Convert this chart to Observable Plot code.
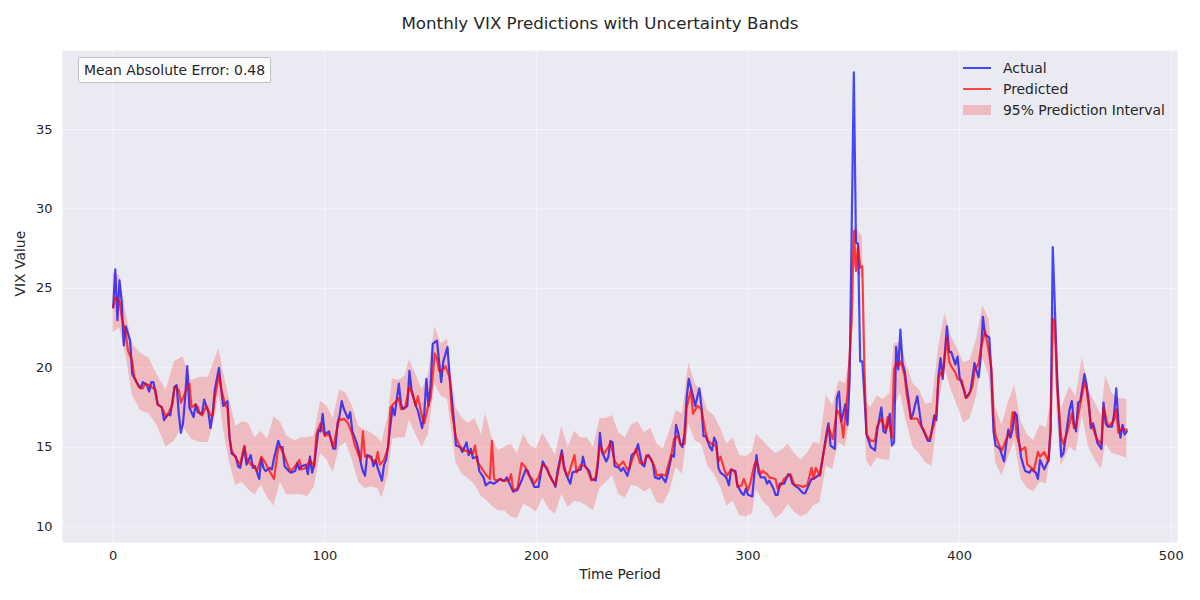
<!DOCTYPE html>
<html>
<head>
<meta charset="utf-8">
<script src="https://cdn.jsdelivr.net/npm/d3@7"></script>
<script src="https://cdn.jsdelivr.net/npm/@observablehq/plot@0.6"></script>
<style>
  body { margin: 0; background: white; }
  #wrap { position: relative; width: 1200px; height: 600px; font-family: "DejaVu Sans", sans-serif; color: #262626; }
  #title { height: 40px; line-height: 47px; text-align: center; font-size: 16.7px; }
  .leg { position: absolute; font-size: 13.9px; display: flex; align-items: center; height: 20px; }
  #mae { position: absolute; left: 78px; top: 57px; width: 193px; height: 26px; box-sizing: border-box; border: 1px solid #c0c0c0; background: rgba(255,255,255,0.85); font-size: 13.9px; line-height: 24px; padding-left: 5px; border-radius: 2px; }
</style>
</head>
<body>
<div id="wrap">
  <div id="title">Monthly VIX Predictions with Uncertainty Bands</div>
  <div id="chart"></div>
  <div id="mae">Mean Absolute Error: 0.48</div>
  <div id="legend"></div>
</div>
<script>
// ---- data ----
const actualT = [0,1,2,3,4,5,6,8,9,11,13,14,16,17,18,19,21,23,24,26,27,29,30,31,32,33,34,35,36,38,39,40,42,43,45,46,47,48,50,51,52,54,55,56,58,59,60,62,63,65,66,67,69,70,71,72,74,75,76,78,79,80,81,83,84,86,87,88,89,91,92,93,94,95,97,98,99,100,101,102,103,104,105,106,107,108,109,110,111,112,113,115,116,117,118,119,120,122,123,124,125,127,128,129,130,132,133,135,136,137,139,140,141,143,144,146,147,148,149,150,151,153,154,155,156,158,159,160,161,162,164,165,167,168,169,170,172,173,175,176,178,180,181,183,184,185,186,188,189,191,192,193,195,196,197,199,201,202,203,205,206,208,209,210,212,213,214,216,217,219,221,222,223,225,226,228,229,230,231,233,234,235,236,237,239,240,241,243,244,245,247,248,250,251,252,253,255,256,258,259,261,262,264,265,266,267,268,269,270,271,272,274,275,277,278,279,280,282,283,284,285,286,287,289,290,291,292,294,295,297,298,299,300,302,303,304,305,306,308,309,310,312,313,314,315,317,318,319,320,321,323,324,326,327,328,330,331,334,335,337,338,339,341,342,343,344,346,347,348,350,351,352,353,354,355,356,358,360,361,363,364,365,367,368,369,370,371,372,373,374,375,376,377,378,379,380,382,383,385,386,388,389,390,391,392,394,395,396,398,399,400,402,403,405,406,407,408,409,410,411,412,414,415,416,417,418,419,420,421,422,423,424,425,426,427,428,429,430,431,433,434,436,437,438,439,440,441,442,443,444,445,446,447,448,449,451,452,453,454,455,456,457,459,460,461,462,463,464,465,466,467,468,469,470,472,473,474,475,476,477,478,479];
const actualV = [23.8,26.2,23.0,25.5,24.2,21.4,22.6,21.7,19.6,19.1,18.7,19.1,18.9,18.5,19.1,19.1,17.7,17.5,16.7,17.1,17.0,18.8,18.9,17.1,15.9,16.5,18.1,20.1,17.5,16.9,17.7,17.2,17.1,18.0,17.2,16.2,17.1,18.6,20.0,18.7,17.6,17.9,15.6,14.6,14.4,13.8,13.7,15.0,13.9,14.5,13.7,13.8,13.0,14.3,13.7,13.5,13.7,13.6,14.3,15.4,15.0,15.0,13.8,13.5,13.4,13.5,14.0,13.6,13.8,13.9,13.3,14.4,13.4,13.9,16.1,16.0,17.1,15.8,15.9,16.0,15.4,14.9,14.9,16.5,17.0,17.9,17.4,17.1,16.8,17.2,16.0,15.3,14.8,14.0,13.5,13.2,14.5,14.4,13.8,14.2,13.7,12.9,13.9,14.2,15.2,17.5,17.0,19.0,17.7,17.4,17.6,19.8,18.6,17.6,17.3,16.2,17.1,19.3,17.6,18.9,21.5,21.7,20.4,19.1,20.4,21.3,19.4,18.1,16.7,15.1,15.0,14.7,15.3,14.5,14.9,14.3,14.4,13.5,13.1,12.6,12.8,12.7,12.8,13.0,12.9,12.9,13.1,12.5,12.2,12.3,12.6,12.9,13.6,13.5,13.1,12.5,12.5,13.3,14.1,13.6,13.3,12.8,12.5,13.5,14.8,13.9,13.3,12.7,13.4,13.5,13.6,14.4,13.8,13.5,13.0,12.9,13.8,15.9,14.7,14.1,14.4,15.4,15.3,13.8,13.7,13.5,13.7,13.2,13.7,14.5,14.7,15.2,13.9,13.8,14.4,14.5,14.0,13.1,13.0,13.2,12.8,13.3,14.5,14.4,16.4,15.9,15.2,15.0,15.9,18.1,19.3,18.2,17.6,18.7,17.5,15.7,15.7,15.0,14.8,15.6,15.3,13.7,13.4,13.2,13.0,12.6,13.6,13.5,12.6,12.1,12.0,12.4,12.0,11.9,13.3,14.5,13.4,13.1,13.1,12.7,12.9,12.4,12.0,12.0,12.7,12.7,13.0,13.3,13.2,12.7,12.5,12.4,12.1,12.1,12.4,13.0,13.0,13.3,14.1,15.8,16.5,15.1,14.9,18.1,18.5,16.6,17.7,16.4,19.2,38.6,27.9,27.8,20.4,20.4,18.2,15.8,15.0,14.8,16.0,17.5,16.0,15.9,17.1,15.1,15.3,21.3,19.9,22.4,20.3,19.8,18.8,17.9,16.8,17.1,17.7,18.2,16.3,16.0,15.4,15.4,17.0,16.7,19.5,20.6,19.3,22.6,21.0,21.0,20.2,20.7,19.4,18.6,18.1,18.5,19.3,20.3,19.8,19.4,20.8,23.2,22.1,21.9,19.6,16.0,15.1,15.0,14.9,14.5,14.1,15.2,16.1,15.6,16.1,17.2,17.0,15.4,14.4,13.9,13.5,13.4,13.6,13.4,13.0,14.2,13.9,13.6,13.9,14.2,16.2,27.6,23.8,19.8,16.9,14.4,14.6,16.5,17.4,17.9,16.5,16.0,17.8,17.9,19.6,18.9,17.9,16.2,16.5,16.0,15.3,15.1,14.9,17.8,16.5,16.3,16.3,17.1,18.7,16.6,15.6,16.4,15.8,16.0];

const predT = [0,1,2,3,4,6,7,9,10,12,14,15,17,18,20,21,23,25,26,28,29,31,32,34,36,37,39,40,41,42,44,46,47,48,50,51,53,54,55,56,58,60,62,63,65,66,68,70,72,73,76,78,79,81,83,84,86,88,89,91,93,95,96,98,100,102,103,104,106,107,108,109,111,113,114,116,117,118,119,121,124,125,126,128,130,131,133,135,136,138,140,141,143,144,146,147,149,150,152,153,154,156,157,159,160,162,164,166,168,170,171,172,174,176,178,179,180,181,183,184,187,188,189,191,193,195,196,198,199,201,203,205,207,209,210,212,213,215,218,219,221,223,224,226,228,230,232,234,235,237,239,241,243,244,246,247,249,251,252,254,256,257,259,261,262,264,265,267,268,270,271,273,274,276,277,278,279,280,281,283,284,285,286,287,289,290,292,294,295,297,298,300,301,303,304,306,307,309,310,313,314,316,317,319,320,322,324,326,328,330,331,332,334,335,338,340,342,343,344,345,346,347,349,350,351,352,353,354,355,356,358,360,361,363,365,366,368,369,370,371,372,373,374,375,377,378,380,381,383,385,386,388,389,390,391,392,394,395,396,398,399,401,403,404,406,407,409,410,412,413,415,416,417,419,420,422,424,425,426,427,429,431,432,434,435,437,438,440,442,443,444,445,446,448,449,451,453,454,455,457,459,460,462,463,464,465,467,468,470,471,473,474,475,477,478,479];
const predV = [23.8,24.4,24.3,24.2,23.2,22.1,21.1,20.4,19.4,18.8,18.7,19.0,18.9,18.8,18.6,17.7,17.5,16.9,17.1,17.7,18.8,18.6,17.8,18.4,19.0,17.5,17.7,17.5,17.1,17.0,17.6,17.0,17.0,18.1,19.6,18.7,17.6,17.5,15.6,14.8,14.3,13.9,15.1,14.3,13.9,13.9,13.5,14.4,14.0,13.7,13.0,15.0,15.0,14.4,13.7,13.5,13.8,14.2,13.6,13.7,14.2,13.8,15.8,16.5,15.7,15.8,15.5,15.0,16.3,16.8,16.7,16.8,16.5,15.8,15.2,14.5,14.2,16.0,14.4,14.4,14.0,14.7,13.9,14.2,15.0,17.5,17.8,18.1,17.4,17.5,18.8,18.5,17.6,18.2,16.9,16.5,17.7,18.1,20.9,20.6,19.8,19.9,20.1,19.4,17.3,15.6,15.0,14.8,14.7,14.6,15.1,14.1,13.7,13.3,13.0,15.4,13.0,12.9,13.0,12.9,12.9,13.3,12.3,12.4,14.0,13.7,13.3,13.0,12.7,13.1,13.9,13.7,13.0,12.6,13.3,14.6,13.6,13.2,14.5,13.4,13.9,13.8,13.6,12.9,13.1,15.1,14.6,15.0,15.3,14.1,13.8,14.1,13.6,13.7,14.5,14.9,14.0,14.0,14.5,14.3,13.7,13.2,13.3,13.2,13.7,14.7,15.5,15.7,15.2,15.2,17.5,18.6,17.1,17.6,17.5,17.4,16.6,15.9,15.4,15.2,15.2,15.0,14.1,14.4,13.5,13.2,13.6,13.4,12.5,12.6,13.0,12.3,12.7,13.9,14.1,13.3,13.5,13.3,13.1,13.0,12.4,12.7,13.0,13.2,13.3,12.6,12.6,12.5,12.6,13.7,13.0,13.7,13.2,14.1,16.3,15.5,17.3,17.2,16.7,15.6,17.1,18.4,23.0,28.6,26.1,27.6,26.3,26.4,20.0,15.8,15.4,15.4,16.3,16.8,16.1,16.9,15.6,19.9,20.3,20.1,20.4,20.0,19.5,18.3,16.8,16.8,16.8,16.5,16.1,15.5,15.6,16.5,17.3,19.3,19.7,19.5,21.9,20.4,20.1,19.7,19.3,19.2,18.1,18.2,18.8,19.8,20.3,21.2,22.3,21.6,20.0,16.9,15.7,15.0,14.8,15.5,16.0,17.2,17.1,15.7,14.8,15.0,13.9,13.7,13.5,14.7,14.4,14.7,14.1,16.0,23.1,22.8,18.8,15.6,15.2,16.0,17.1,16.2,16.3,17.7,19.1,18.6,16.5,16.2,15.8,15.5,15.2,17.5,16.4,16.4,16.7,17.4,15.9,16.2,16.1,16.1];

const bandT  = [0,3,6,9,13,17,21,25,29,33,37,41,45,48,50,52,55,58,61,64,67,70,73,76,79,82,86,89,92,95,98,101,104,107,110,113,116,119,122,125,127,130,132,135,138,140,143,146,149,152,155,158,160,162,165,168,171,174,176,179,182,185,188,191,194,197,200,203,206,209,212,215,218,221,224,227,230,233,236,239,242,245,248,251,254,257,260,263,266,269,272,275,278,281,284,287,290,293,296,299,302,304,307,310,313,316,319,322,325,328,331,334,337,340,343,346,348,349,350,352,354,355,356,358,361,364,367,369,372,375,378,381,384,387,390,393,396,399,402,405,408,411,414,417,420,423,426,429,432,435,438,441,443,444,445,446,448,452,455,458,461,464,467,469,472,475,479];
const bandLow = [22.2,22.5,20.8,18.3,17.3,17.1,16.3,15.0,15.4,16.3,15.5,15.3,15.3,16.8,18.3,16.2,14.0,12.6,12.8,12.3,12.0,12.6,11.8,11.3,12.8,12.0,12.0,12.0,11.9,12.5,14.6,14.2,13.4,15.0,15.3,14.2,12.8,12.4,12.5,12.4,11.8,13.2,15.5,15.6,15.6,16.7,15.8,15.0,15.8,19.0,18.2,18.0,16.0,14.0,13.3,13.0,12.6,11.9,11.7,11.3,11.0,11.0,10.6,10.5,11.4,11.2,10.9,11.8,11.1,10.8,12.0,11.2,11.6,11.5,11.3,11.0,12.4,12.8,13.2,12.0,11.8,12.6,12.5,12.2,12.4,11.5,11.4,12.2,13.7,13.3,16.5,15.4,15.2,13.8,13.3,12.5,11.3,11.6,10.7,10.6,10.8,12.3,11.6,11.2,10.5,10.8,11.4,10.9,10.6,10.8,11.3,11.5,13.8,13.6,15.3,15.0,16.5,21.0,26.5,25.9,25.6,18.4,14.2,13.7,14.3,14.2,14.2,17.5,18.4,16.5,15.0,14.6,14.0,13.8,17.3,20.0,18.6,17.6,16.5,16.8,18.2,20.6,19.4,14.0,13.2,14.3,15.4,13.0,12.4,12.2,12.8,12.7,14.4,21.8,21.4,17.2,13.8,15.0,14.7,17.0,15.0,14.2,13.6,15.2,14.6,14.5,14.3];
const bandHigh = [26.0,25.8,23.5,21.5,20.9,20.6,19.5,18.6,20.4,20.7,19.2,19.4,19.4,20.5,21.2,19.8,18.0,16.3,16.6,16.5,15.6,16.0,15.5,16.9,16.6,15.7,15.4,15.6,15.6,15.7,17.9,17.6,16.8,18.6,18.4,17.6,16.3,16.1,15.9,15.6,15.3,17.0,19.3,19.2,19.5,20.5,19.6,18.6,19.6,22.6,21.5,21.8,19.4,17.5,16.8,16.5,16.8,15.8,17.1,15.6,14.8,15.0,15.2,14.6,15.8,15.1,14.9,15.9,15.2,14.5,16.3,15.0,16.0,15.6,15.6,15.0,16.8,16.8,17.0,15.9,15.6,16.4,16.6,15.9,16.2,15.2,14.9,16.0,17.3,17.1,20.3,19.0,18.5,17.3,17.0,16.2,15.2,15.6,14.5,14.4,14.7,15.8,15.4,15.0,14.6,14.8,15.2,14.6,14.2,14.6,15.3,15.2,18.3,17.6,19.2,19.0,20.5,25.0,28.9,28.6,28.3,22.0,17.8,17.5,18.2,18.0,18.4,21.5,21.6,20.2,19.0,18.6,17.7,17.8,21.2,23.4,22.0,21.2,20.3,20.5,21.8,23.9,23.0,17.5,16.4,17.8,18.9,16.6,15.8,15.4,16.4,16.2,17.8,23.9,23.7,20.4,17.4,18.8,18.2,20.7,18.6,17.8,17.0,19.5,18.4,18.1,18.0];

const xTicks = [0, 100, 200, 300, 400, 500];
const yTicks = [10, 15, 20, 25, 30, 35];
const seriesNames = ["Actual", "Predicted", "95% Prediction Interval"];
const seriesColors = ["blue", "red", "red"];

// ---- tables built from the arrays ----
const actual = actualT.map((t, i) => ({t, v: actualV[i]}));
const predicted = predT.map((t, i) => ({t, v: predV[i]}));
const band = bandT.map((t, i) => ({t, lo: bandLow[i], hi: bandHigh[i]}));

const chart = Plot.plot({
  width: 1200,
  height: 560,
  marginTop: 10,
  marginBottom: 58,
  marginLeft: 62,
  marginRight: 23,
  style: {fontFamily: "DejaVu Sans, sans-serif", fontSize: "13px", color: "#262626", background: "white", overflow: "visible"},
  x: {domain: [-23.95, 502.95]},
  y: {domain: [9.0, 39.97]},
  marks: [
    Plot.frame({fill: "#EAEAF2", stroke: null}),
    Plot.gridX(xTicks, {stroke: "white", strokeOpacity: 0.55, strokeWidth: 1}),
    Plot.gridY(yTicks, {stroke: "white", strokeOpacity: 0.55, strokeWidth: 1}),
    Plot.areaY(band, {x: "t", y1: "lo", y2: "hi", fill: seriesColors[2], fillOpacity: 0.2}),
    Plot.lineY(actual, {x: "t", y: "v", stroke: seriesColors[0], strokeOpacity: 0.7, strokeWidth: 2.2}),
    Plot.lineY(predicted, {x: "t", y: "v", stroke: seriesColors[1], strokeOpacity: 0.7, strokeWidth: 2.2}),
    Plot.axisX(xTicks, {tickSize: 0, tickPadding: 8, label: null, fontSize: 13}),
    Plot.axisY(yTicks, {tickSize: 0, tickPadding: 10, label: null, fontSize: 13}),
    Plot.text(["Time Period"], {frameAnchor: "bottom", dy: 36, fontSize: 13.9, fill: "#262626"}),
    Plot.text(["VIX Value"], {frameAnchor: "left", dx: -42, rotate: -90, fontSize: 13.9, fill: "#262626"})
  ]
});
document.getElementById("chart").appendChild(chart);

// legend
const legend = document.getElementById("legend");
const rows = [68, 89, 110];
seriesNames.forEach((name, i) => {
  const row = document.createElement("div");
  row.className = "leg";
  row.style.left = "963px";
  row.style.top = (rows[i] - 10) + "px";
  const sw = i < 2
    ? `<svg width="28" height="20" style="margin-right:12px"><line x1="0" x2="28" y1="10" y2="10" stroke="${seriesColors[i]}" stroke-opacity="0.7" stroke-width="2"/></svg>`
    : `<svg width="28" height="20" style="margin-right:12px"><rect x="0" y="5" width="28" height="10" fill="${seriesColors[i]}" fill-opacity="0.2"/></svg>`;
  row.innerHTML = sw + `<span>${name}</span>`;
  legend.appendChild(row);
});
</script>
</body>
</html>
